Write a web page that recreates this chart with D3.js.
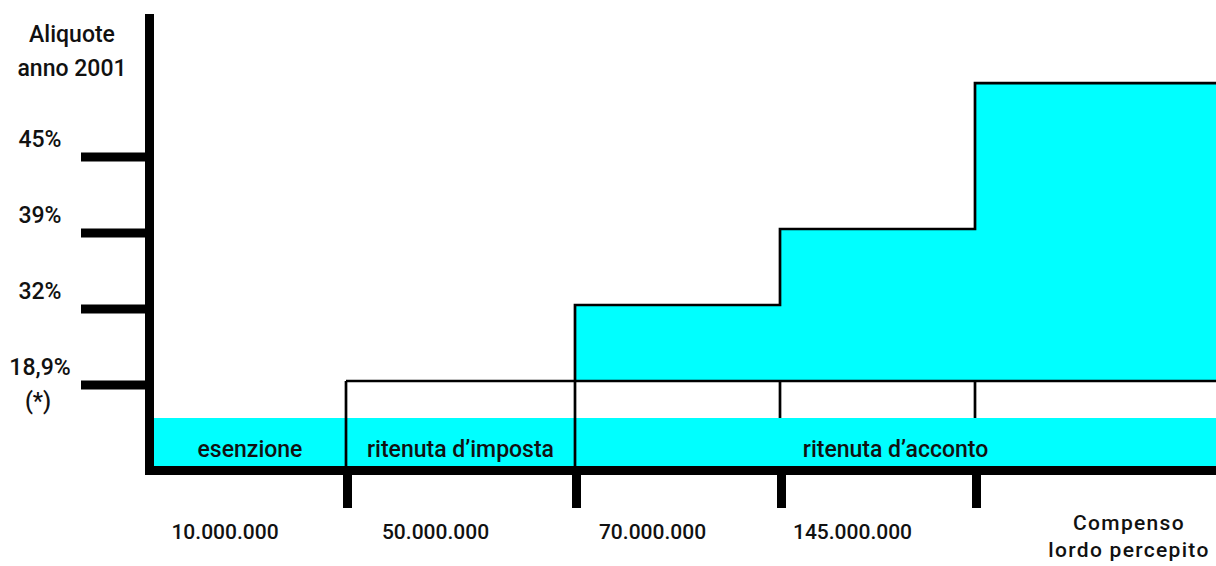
<!DOCTYPE html>
<html>
<head>
<meta charset="utf-8">
<script src="https://cdn.jsdelivr.net/npm/d3@7"></script>
<style>
  body { margin: 0; background: #fff; }
  text { font-family: Roboto, "Liberation Sans", sans-serif; font-weight: 500; fill: #111; }
</style>
</head>
<body>
<div id="chart"></div>
<script>
// income brackets (upper limit shown under each segment) and rate levels
const incomeLabels = ['10.000.000', '50.000.000', '70.000.000', '145.000.000'];
const rateLabels = ['18,9%', '32%', '39%', '45%'];
const rateLevels = [1, 2, 3, 4];
const regimes = [
    {name: 'esenzione', from: 0, to: 1},
    {name: 'ritenuta d\u2019imposta', from: 1, to: 2},
    {name: 'ritenuta d\u2019acconto', from: 2, to: 5}
];
// step height of each segment (segment 0 has none, segment 1 is only outlined)
const stepLevels = [null, 1, 2, 3, 4.92];
const titleLines = ['Aliquote', 'anno 2001'];
const xTitleLines = ['Compenso', 'lordo percepito'];

const W = 1216, H = 566;
const axisY = 466, bandTop = 418, cyan = '#00ffff';

const svg = d3.select('#chart').append('svg')
    .attr('width', W)
    .attr('height', H);

// segment boundaries along the income axis
const x = d3.scaleLinear()
    .domain([0, 1, 2, 3, 4, 5])
    .range([154, 346, 575, 780, 975, 1216]);

// rate levels along the vertical axis
const y = d3.scaleLinear()
    .domain([1, 4])
    .range([381, 153]);

// cyan band with the regimes
svg.append('rect')
    .attr('x', x(0)).attr('y', bandTop)
    .attr('width', x(5) - x(0)).attr('height', axisY - bandTop)
    .attr('fill', cyan);

// filled steps (segments 2..4)
const steps = stepLevels.map((l, i) => ({i, l})).filter(d => d.i >= 2);
svg.selectAll('.step')
    .data(steps)
    .enter().append('rect')
    .attr('class', 'step')
    .attr('x', d => x(d.i))
    .attr('y', d => y(d.l))
    .attr('width', d => x(d.i + 1) - x(d.i))
    .attr('height', d => y(1) - y(d.l))
    .attr('fill', cyan);

// thin outlines
const thin = svg.append('g')
    .attr('fill', 'none')
    .attr('stroke', '#000')
    .attr('stroke-width', 2.7);

const outline = d3.path();
outline.moveTo(x(2), axisY);
for (let i = 2; i < stepLevels.length; i++) {
    outline.lineTo(x(i), y(stepLevels[i]));
    outline.lineTo(x(i + 1), y(stepLevels[i]));
}
thin.append('path').attr('d', outline.toString());

thin.append('line')
    .attr('x1', x(1)).attr('x2', x(5))
    .attr('y1', y(stepLevels[1])).attr('y2', y(stepLevels[1]));
thin.append('line')
    .attr('x1', x(1)).attr('x2', x(1))
    .attr('y1', y(stepLevels[1])).attr('y2', axisY);
[3, 4].forEach(i => {
    thin.append('line')
        .attr('x1', x(i)).attr('x2', x(i))
        .attr('y1', y(1)).attr('y2', bandTop);
});

// regime names inside the band
svg.selectAll('.regime')
    .data(regimes)
    .enter().append('text')
    .attr('class', 'regime')
    .attr('x', d => (x(d.from) + x(d.to)) / 2)
    .attr('y', 457)
    .attr('text-anchor', 'middle')
    .style('font-size', '23px')
    .text(d => d.name);

// heavy axes
const yAxis = d3.axisLeft(y)
    .tickValues(rateLevels)
    .tickSize(64)
    .tickSizeOuter(0)
    .tickFormat('');
svg.append('g')
    .attr('transform', 'translate(145,3.5)')
    .call(yAxis)
    .call(g => g.select('.domain').remove())
    .call(g => g.selectAll('.tick line').attr('stroke', '#000').attr('stroke-width', 9));

const xAxis = d3.axisBottom(x)
    .tickValues([1, 2, 3, 4])
    .tickSize(33)
    .tickSizeOuter(0)
    .tickFormat('');
svg.append('g')
    .attr('transform', 'translate(1,475)')
    .call(xAxis)
    .call(g => g.select('.domain').remove())
    .call(g => g.selectAll('.tick line').attr('stroke', '#000').attr('stroke-width', 9));

svg.append('rect')
    .attr('x', 145).attr('y', 14)
    .attr('width', 9).attr('height', 475 - 14)
    .attr('fill', '#000');
svg.append('rect')
    .attr('x', 145).attr('y', axisY)
    .attr('width', W - 145).attr('height', 9)
    .attr('fill', '#000');

// rate labels
svg.selectAll('.rate')
    .data(rateLabels)
    .enter().append('text')
    .attr('class', 'rate')
    .attr('x', 40)
    .attr('y', (d, i) => y(rateLevels[i]) - 6)
    .attr('text-anchor', 'middle')
    .style('font-size', '23px')
    .text(d => d);
svg.append('text')
    .attr('x', 38).attr('y', y(1) + 28)
    .attr('text-anchor', 'middle')
    .style('font-size', '23px')
    .text('(*)');

svg.selectAll('.title')
    .data(titleLines)
    .enter().append('text')
    .attr('class', 'title')
    .attr('x', 72)
    .attr('y', (d, i) => 42 + i * 34)
    .attr('text-anchor', 'middle')
    .style('font-size', '23px')
    .text(d => d);

// income labels
svg.selectAll('.income')
    .data(incomeLabels)
    .enter().append('text')
    .attr('class', 'income')
    .attr('x', (d, i) => (x(i) + x(i + 1)) / 2 - 25)
    .attr('y', 539)
    .attr('text-anchor', 'middle')
    .style('font-size', '21px')
    .text(d => d);

svg.selectAll('.xtitle')
    .data(xTitleLines)
    .enter().append('text')
    .attr('class', 'xtitle')
    .attr('x', x(5) - 87)
    .attr('y', (d, i) => 530 + i * 27)
    .attr('text-anchor', 'middle')
    .style('font-size', '21px')
    .style('letter-spacing', '1.3px')
    .text(d => d);
</script>
</body>
</html>
